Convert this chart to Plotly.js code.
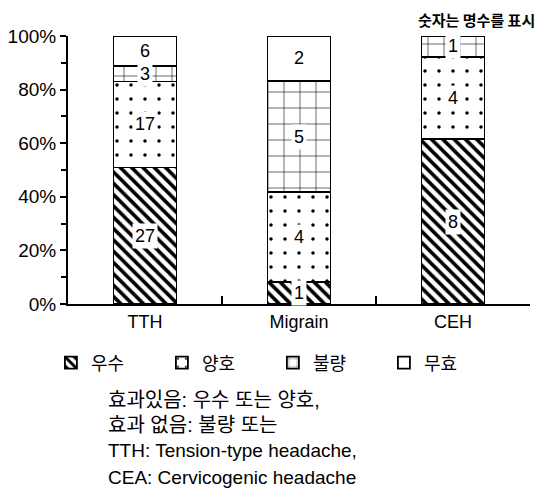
<!DOCTYPE html>
<html>
<head>
<meta charset="utf-8">
<script src="https://cdn.plot.ly/plotly-3.0.1.min.js"></script>
<style>html,body{margin:0;padding:0;background:#fff;}#chart{width:548px;height:500px;}</style>
</head>
<body>
<div id="chart"></div>
<script>
const categories = ['TTH', 'Migrain', 'CEH'];
const seriesNames = ['우수', '양호', '불량', '무효'];
const excellent = [27, 1, 8];   // 우수
const good      = [17, 4, 4];   // 양호
const poor      = [3, 5, 1];    // 불량
const noEffect  = [6, 2, 0];    // 무효
const yTickVals = [0, 20, 40, 60, 80, 100];
const yTickText = ['0%', '20%', '40%', '60%', '80%', '100%'];
const noteTop = '숫자는 명수를 표시';
const notes = ['효과있음: 우수 또는 양호,', '효과 없음: 불량 또는', 'TTH: Tension-type headache,', 'CEA: Cervicogenic headache'];

const series = [excellent, good, poor, noEffect];
const patterns = [
  {shape: '\\', fgcolor: '#000', bgcolor: '#fff', size: 8, solidity: 0.45},
  {shape: '.', fgcolor: '#000', bgcolor: '#fff', size: 14, solidity: 0.05},
  {shape: '+', fgcolor: '#000', bgcolor: '#fff', size: 16, solidity: 0.07},
  {shape: '', bgcolor: '#fff'}
];

const traces = series.map((vals, i) => ({
  type: 'bar',
  name: seriesNames[i],
  x: categories,
  y: vals,
  marker: {color: '#fff', pattern: patterns[i], line: {color: '#000', width: 1.8}},
  hoverinfo: 'skip'
}));

// label annotations at the middle of each stacked segment (percent scale)
const annotations = [];
categories.forEach((c, ci) => {
  const total = series.reduce((s, arr) => s + arr[ci], 0);
  let cum = 0;
  series.forEach((arr) => {
    const v = arr[ci];
    if (v > 0) {
      const mid = (cum + v / 2) / total * 100;
      annotations.push({
        x: c, y: mid, xref: 'x', yref: 'y', text: String(v), showarrow: false,
        font: {family: 'Liberation Sans, Arial, sans-serif', size: 18, color: '#000'},
        bgcolor: '#fff', borderpad: 2
      });
    }
    cum += v;
  });
});

annotations.push({
  xref: 'paper', yref: 'paper', x: 1.015, y: 1.06, xanchor: 'right', yanchor: 'middle',
  text: '<b>' + noteTop + '</b>', showarrow: false,
  font: {family: 'Noto Sans CJK KR, sans-serif', size: 15, color: '#000'}
});

const notePix = [400, 425, 450, 477];
const noteSizes = [20, 20, 19, 19];
notes.forEach((t, i) => {
  annotations.push({
    xref: 'paper', yref: 'paper', x: (106 - 68) / 462, y: (304 - notePix[i]) / 268,
    xanchor: 'left', yanchor: 'middle', text: t, showarrow: false,
    font: {family: 'Liberation Sans, Noto Sans CJK KR, sans-serif', size: noteSizes[i], color: '#000'}
  });
});

const layout = {
  width: 548, height: 500,
  margin: {l: 68, r: 18, t: 36, b: 196},
  paper_bgcolor: '#fff', plot_bgcolor: '#fff',
  barmode: 'stack', barnorm: 'percent', bargap: 0.59,
  showlegend: true,
  legend: {
    orientation: 'h', x: -0.037, xanchor: 'left', y: (304 - 363) / 268, yanchor: 'middle',
    entrywidth: 66, entrywidthmode: 'pixels', traceorder: 'normal',
    font: {family: 'Noto Sans CJK KR, sans-serif', size: 18, color: '#000'},
    itemclick: false
  },
  xaxis: {
    type: 'category', range: [-0.5, 2.5], showline: true, linecolor: '#000', linewidth: 2,
    ticks: 'inside', tickson: 'boundaries', ticklen: 8, tickcolor: '#000', tickwidth: 2,
    showgrid: false, zeroline: false,
    tickfont: {family: 'Liberation Sans, Arial, sans-serif', size: 18, color: '#000'}
  },
  yaxis: {
    range: [0, 100], showline: true, linecolor: '#000', linewidth: 2,
    tickvals: yTickVals, ticktext: yTickText, ticks: 'outside', ticklen: 6, tickcolor: '#000', tickwidth: 2,
    minor: {dtick: 10, ticks: 'outside', ticklen: 5, tickcolor: '#000', tickwidth: 2, showgrid: false},
    showgrid: false, zeroline: false,
    tickfont: {family: 'Liberation Sans, Arial, sans-serif', size: 19, color: '#000'}
  },
  annotations: annotations
};

Plotly.newPlot('chart', traces, layout, {staticPlot: true, displayModeBar: false});
</script>
</body>
</html>
